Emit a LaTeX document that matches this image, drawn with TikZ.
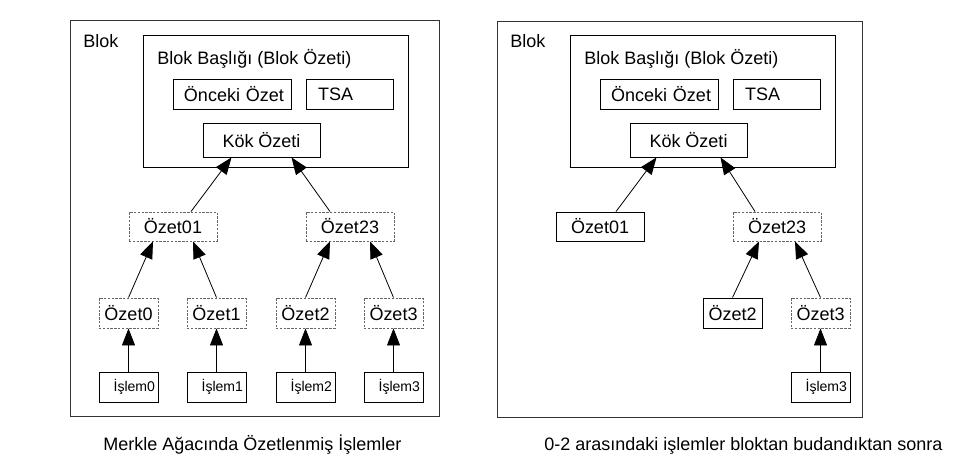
\documentclass[tikz,border=0pt]{standalone}
\usepackage{fontspec}
\setmainfont{Liberation Sans}
\usepackage{tikz}
\usetikzlibrary{calc,positioning}
\usetikzlibrary{arrows.meta}

\begin{document}
\begin{tikzpicture}[baseline=0mm,
	box/.style={draw,line width=0.22mm,inner sep=0pt,font=\fontsize{12.8}{15}\selectfont},
	hashbox/.style={box,draw=black!60,dash pattern=on 0.6mm off 0.35mm},
	mid/.style={minimum width=22mm,minimum height=7.25mm},
	leaf/.style={minimum width=14.75mm,minimum height=7.5mm},
	txbox/.style={box,font=\fontsize{10}{12}\selectfont,text width=13.25mm,align=right,inner xsep=0.75mm,minimum height=7.5mm},
	up/.style={line width=0.2mm,-{Triangle[length=4.25mm,width=3.25mm]}},
	lbl/.style={anchor=base west,inner sep=0pt,font=\fontsize{12.8}{15}\selectfont}]
				%\draw[color=gray,step=1mm, help lines,opacity=0.3] (0pt,0pt) grid (238.5mm,117.5mm); %help grids
				\useasboundingbox (0mm,0mm) rectangle (238.5mm,117.5mm);

				% left: full merkle tree
				\draw[line width=0.22mm,color=black!80] (17.5mm,13.5mm) rectangle (109.75mm,112.5mm);
				\draw[line width=0.22mm] (35.75mm,75.75mm) rectangle (102mm,108.75mm);
				\node[lbl] (blok) at (20.75mm,105.5mm) {Blok};
				\node[lbl] (baslik) at (39.25mm,101.25mm) {Blok Başlığı (Blok Özeti)};
				\node[box,text width=26mm,align=right,inner xsep=1.75mm,minimum height=7.5mm] (onceki) at (58mm,94mm) {Önceki Özet};
				\node[box,text width=15.75mm,align=left,inner xsep=3mm,minimum height=7.5mm] (tsa) at (87.375mm,94mm) {TSA};
				\node[box,minimum width=29.25mm,minimum height=8.5mm] (kok) at (65.375mm,82.5mm) {Kök Özeti};

				\node[hashbox,mid] (oz01) at (43.25mm,60.875mm) {Özet01};
				\node[hashbox,mid] (oz23) at (87.5mm,60.875mm) {Özet23};
				\node[hashbox,leaf] (oz0) at (32.125mm,39.25mm) {Özet0};
				\node[hashbox,leaf] (oz1) at (54.125mm,39.25mm) {Özet1};
				\node[hashbox,leaf] (oz2) at (76.375mm,39.25mm) {Özet2};
				\node[hashbox,leaf] (oz3) at (98.375mm,39.25mm) {Özet3};
				\node[txbox] (is0) at (32.125mm,20.75mm) {İşlem0};
				\node[txbox] (is1) at (54.125mm,20.75mm) {İşlem1};
				\node[txbox] (is2) at (76.375mm,20.75mm) {İşlem2};
				\node[txbox] (is3) at (98.375mm,20.75mm) {İşlem3};

				\draw[up] ([xshift=4.5mm]oz01.north)--([xshift=-7.5mm]kok.south);
				\draw[up] ([xshift=-5mm]oz23.north)--([xshift=7.5mm]kok.south);
				\draw[up] (oz0.north)--([xshift=-5mm]oz01.south);
				\draw[up] (oz1.north)--([xshift=5mm]oz01.south);
				\draw[up] (oz2.north)--([xshift=-5mm]oz23.south);
				\draw[up] (oz3.north)--([xshift=5mm]oz23.south);
				\draw[up] (is0)--(oz0);
				\draw[up] (is1)--(oz1);
				\draw[up] (is2)--(oz2);
				\draw[up] (is3)--(oz3);
				\node[lbl] (capa) at (25.75mm,5mm) {Merkle Ağacında Özetlenmiş İşlemler};

				% right: after pruning 0-2
				\draw[line width=0.22mm,color=black!80] (124.25mm,13.25mm) rectangle (215.5mm,112.25mm);
				\draw[line width=0.22mm] (142.5mm,75.75mm) rectangle (208.75mm,108.75mm);
				\node[lbl] (blokb) at (127.5mm,105.5mm) {Blok};
				\node[lbl] (baslikb) at (146mm,101.25mm) {Blok Başlığı (Blok Özeti)};
				\node[box,text width=26mm,align=right,inner xsep=1.75mm,minimum height=7.5mm] (oncekib) at (164.75mm,94mm) {Önceki Özet};
				\node[box,text width=15.75mm,align=left,inner xsep=3mm,minimum height=7.5mm] (tsab) at (194.125mm,94mm) {TSA};
				\node[box,minimum width=29.25mm,minimum height=8.5mm] (kokb) at (172.125mm,82.5mm) {Kök Özeti};

				\node[box,mid] (oz01b) at (150mm,60.875mm) {Özet01};
				\node[hashbox,mid] (oz23b) at (194.25mm,60.875mm) {Özet23};
				\node[box,leaf] (oz2b) at (183.125mm,39.25mm) {Özet2};
				\node[hashbox,leaf] (oz3b) at (205.125mm,39.25mm) {Özet3};
				\node[txbox] (is3b) at (205.125mm,20.75mm) {İşlem3};

				\draw[up] ([xshift=4mm]oz01b.north)--([xshift=-8mm]kokb.south);
				\draw[up] ([xshift=-5.5mm]oz23b.north)--([xshift=8mm]kokb.south);
				\draw[up] (oz2b.north)--([xshift=-4.5mm]oz23b.south);
				\draw[up] (oz3b.north)--([xshift=4.5mm]oz23b.south);
				\draw[up] (is3b)--(oz3b);
				\node[lbl] (capb) at (136mm,5mm) {0-2 arasındaki işlemler bloktan budandıktan sonra};
\end{tikzpicture}
\end{document}
